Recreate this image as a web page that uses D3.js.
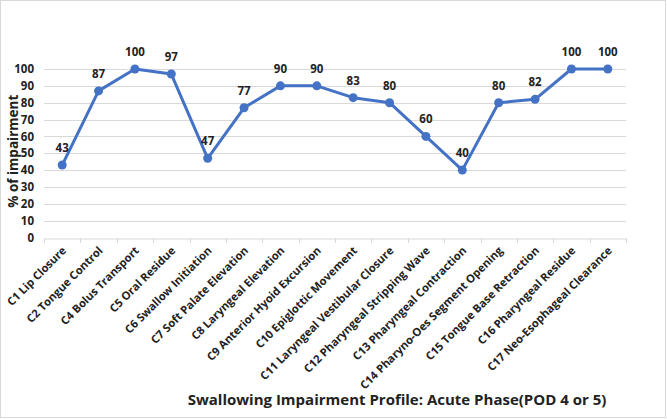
<!DOCTYPE html>
<html><head><meta charset="utf-8">
<script src="https://cdn.jsdelivr.net/npm/d3@7"></script>
<style>body{margin:0;background:#fff}svg{display:block}text{font-family:"Open Sans","Liberation Sans",sans-serif;font-weight:bold;fill:#222}</style>
</head><body><svg id="c" width="667" height="419"></svg>
<script>
const categories = ["C1 Lip Closure","C2 Tongue Control","C4 Bolus Transport","C5 Oral Residue","C6 Swallow Initiation","C7 Soft Palate Elevation","C8 Laryngeal Elevation","C9 Anterior Hyoid Excursion","C10 Epiglottic Movement","C11 Laryngeal Vestibular Closure","C12 Pharyngeal Stripping Wave","C13 Pharyngeal Contraction","C14 Pharyno-Oes Segment Opening","C15 Tongue Base Retraction","C16 Pharyngeal Residue","C17 Neo-Esophageal Clearance"];
const values = [43,87,100,97,47,77,90,90,83,80,60,40,80,82,100,100];
const yTicks = [0,10,20,30,40,50,60,70,80,90,100];
const yLabel = "% of impairment";
const title = "Swallowing Impairment Profile: Acute Phase(POD 4 or 5)";

const svg = d3.select("#c");
svg.append("rect").attr("x",0.5).attr("y",0.5).attr("width",665).attr("height",417).attr("fill","#fff").attr("stroke","#d9d9d9");

const L=44, R=626, T=69, B=237.5;
const x = d3.scaleBand().domain(categories).range([L,R]);
const y = d3.scaleLinear().domain([0,100]).range([B,T]);

// gridlines
svg.append("g").selectAll("line").data(yTicks.filter(d=>d>0)).join("line")
  .attr("x1",L).attr("x2",R).attr("y1",d=>Math.round(y(d))+0.5).attr("y2",d=>Math.round(y(d))+0.5)
  .attr("stroke","#d9d9d9").attr("stroke-width",1);

// y axis labels
const ya = svg.append("g").attr("transform",`translate(${L},0)`)
  .call(d3.axisLeft(y).tickValues(yTicks).tickSize(0).tickPadding(10));
ya.select(".domain").remove();
ya.selectAll("text").attr("font-size",11.5).attr("font-family","Open Sans, sans-serif").attr("font-weight","bold").attr("fill","#222");

// x axis
const xa = svg.append("g").attr("transform",`translate(0,${Math.round(B)+0.5})`)
  .call(d3.axisBottom(x).tickSize(0).tickPadding(0));
xa.select(".domain").attr("stroke","#d9d9d9");
xa.selectAll(".tick text").remove();
// tick marks at band boundaries
const bounds = categories.map(c=>x(c)).concat([R]);
svg.append("g").selectAll("line").data(bounds).join("line")
  .attr("x1",d=>Math.round(d)+0.5).attr("x2",d=>Math.round(d)+0.5)
  .attr("y1",Math.round(B)).attr("y2",Math.round(B)+5).attr("stroke","#d9d9d9");
svg.append("g").selectAll("text").data(categories).join("text")
  .attr("transform",d=>`translate(${x(d)+x.bandwidth()/2+2},${B+11}) rotate(-45)`)
  .attr("text-anchor","end").attr("dy","0.35em").attr("font-size",11.2).text(d=>d);

// line
const line = d3.line().x((d,i)=>x(categories[i])+x.bandwidth()/2).y(d=>y(d));
svg.append("path").datum(values).attr("d",line).attr("fill","none")
  .attr("stroke","#4472c4").attr("stroke-width",3).attr("stroke-linejoin","round");
svg.append("g").selectAll("circle").data(values).join("circle")
  .attr("cx",(d,i)=>x(categories[i])+x.bandwidth()/2).attr("cy",d=>y(d)).attr("r",4.5).attr("fill","#4472c4");
svg.append("g").selectAll("text").data(values).join("text")
  .attr("x",(d,i)=>x(categories[i])+x.bandwidth()/2).attr("y",d=>y(d)-13)
  .attr("text-anchor","middle").attr("font-size",11.5).text(d=>d);

// y label
svg.append("text").attr("transform",`translate(18,${(T+B)/2-2}) rotate(-90)`)
  .attr("text-anchor","middle").attr("font-size",13.5).text(yLabel);
// title
svg.append("text").attr("x",397).attr("y",405).attr("text-anchor","middle").attr("font-size",15).text(title);
</script></body></html>
